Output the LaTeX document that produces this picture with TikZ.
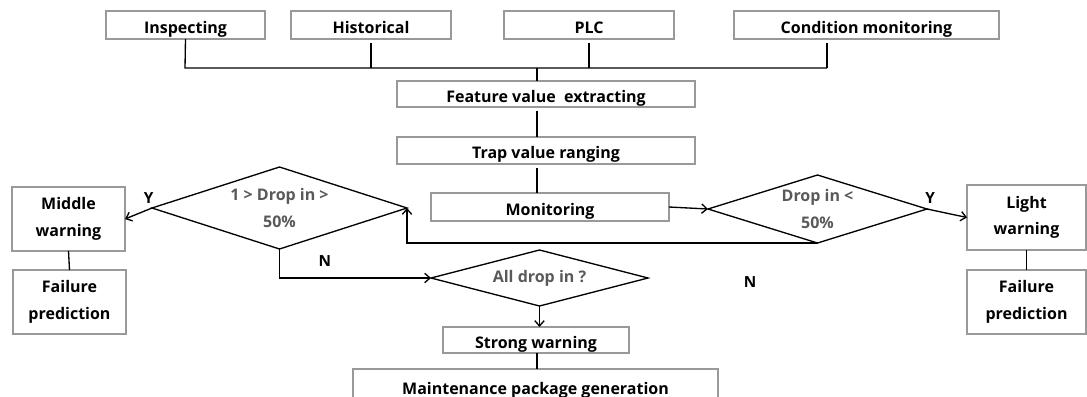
\documentclass[tikz,border=0pt]{standalone}
\usepackage{fontspec}
\setmainfont{Open Sans}
\usepackage{tikz}
\usetikzlibrary{shapes.geometric,arrows.meta}

\newlength{\pxu}
\setlength{\pxu}{0.75pt}

\tikzset{
  databox/.style={draw=gray!80, line width=0.8pt, inner sep=0pt, outer sep=0pt,
    font=\fontsize{12}{20}\selectfont\bfseries, align=center},
  oneline/.style={databox, text height=12pt, text depth=0pt},
  decision/.style={diamond, draw=black, line width=1pt, inner sep=0pt, outer sep=0pt,
    font=\fontsize{12}{20}\selectfont\bfseries, text=gray!70!black, align=center},
  link/.style={line width=1pt, draw=black},
  tag/.style={font=\fontsize{11.5}{12}\selectfont\bfseries, inner sep=1pt},
}

\begin{document}
\begin{tikzpicture}[x=0.75pt, y=-0.75pt, >={Straight Barb[length=4pt,width=7pt]}]
\useasboundingbox (0,0) rectangle (1087,396);

% data sources
\node[oneline, minimum width=159\pxu, minimum height=28\pxu] (insp) at (185.5,25) {Inspecting};
\node[oneline, minimum width=160\pxu, minimum height=28\pxu] (hist) at (371,25) {Historical};
\node[oneline, minimum width=170\pxu, minimum height=28\pxu] (plc) at (589,25) {PLC};
\node[oneline, minimum width=265\pxu, minimum height=28\pxu] (cond) at (866.5,25) {Condition monitoring};

% main chain
\node[oneline, minimum width=298\pxu, minimum height=26\pxu] (feat) at (546,94) {Feature value\ \ extracting};
\node[oneline, minimum width=298\pxu, minimum height=27\pxu] (trap) at (546,150.5) {Trap value ranging};
\node[oneline, minimum width=238\pxu, minimum height=28\pxu] (mon) at (550,207) {Monitoring};

% decisions
\node[decision, minimum width=255\pxu, minimum height=82\pxu, aspect=3.1] (dmid) at (279.5,208) {1 > Drop in >\\50\%};
\node[decision, minimum width=219\pxu, minimum height=68\pxu, aspect=3.2] (dlight) at (817.5,209) {Drop in <\\50\%};
\node[decision, minimum width=217\pxu, minimum height=56\pxu, aspect=3.9] (dall) at (539.5,278) {All drop in ?};

% warnings
\node[databox, minimum width=113\pxu, minimum height=64\pxu] (mid) at (68.5,219) {Middle\\warning};
\node[databox, minimum width=113\pxu, minimum height=64\pxu] (fpl) at (69.5,302) {Failure\\prediction};
\node[databox, minimum width=119\pxu, minimum height=65\pxu] (light) at (1026.5,217.5) {Light\\warning};
\node[databox, minimum width=119\pxu, minimum height=64\pxu] (fpr) at (1026.5,302) {Failure\\prediction};
\node[oneline, minimum width=186\pxu, minimum height=26\pxu] (strong) at (536,340) {Strong warning};
\node[oneline, minimum width=365\pxu, minimum height=34\pxu] (maint) at (535.5,386) {Maintenance package generation};

\node[tag] (nright) at (750,282) {N};

% bus
\coordinate (busL) at (185,68);
\coordinate (busR) at (827,68);
\coordinate (axis) at (537,68);
\draw[link] (insp.south) -- (busL) -- (busR);
\draw[link, shorten <=3pt] (hist.south) -- (hist.south |- busL);
\draw[link, shorten <=3pt] (plc.south) -- (plc.south |- busL);
\draw[link, shorten <=3pt] (busR |- cond.south) -- (busR);
\draw[link] (axis) -- (axis |- feat.north);
\draw[link, shorten <=3pt] (axis |- feat.south) -- (axis |- trap.north);
\draw[link, shorten <=3pt] (axis |- trap.south) -- (axis |- mon.north);

% flow
\draw[link, ->] (mon.east) -- (dlight.west);
\draw[link, ->] (dlight.east) -- node[tag, pos=0.08, above=3pt] {Y} (light.west);
\draw[link, ->] (dmid.west) -- node[tag, pos=0.12, above=3pt] {Y} (mid.east);
\draw[link, ->] (dlight.south) -| (dmid.east);
\draw[link, ->] (dmid.south) |- node[tag, pos=0.65, above=7pt] {N} (dall.west);
\draw[link, ->] (dall.south) -- (dall.south |- strong.north);
\draw[link] (strong.south -| axis) -- (axis |- maint.north);
\draw[link] (mid.south) -- (fpl.north);
\draw[link] (light.south) -- (fpr.north);
\end{tikzpicture}
\end{document}
